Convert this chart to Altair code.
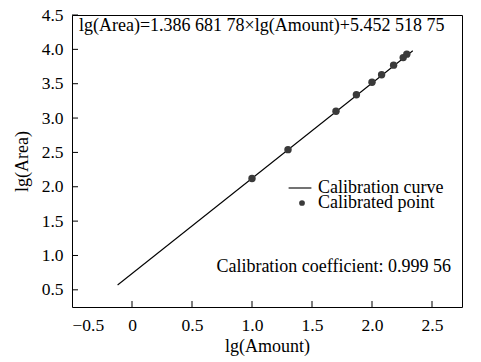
import altair as alt
import pandas as pd

# Calibrated points
amount_lg = [1.00, 1.30, 1.70, 1.87, 2.00, 2.08, 2.18, 2.26, 2.29]
area_lg = [2.12, 2.54, 3.10, 3.34, 3.52, 3.63, 3.77, 3.88, 3.93]
# Calibration curve end points
curve_x = [-0.12, 2.34]
curve_y = [0.57, 3.98]
# Tick values
x_ticks = [-0.5, 0.0, 0.5, 1.0, 1.5, 2.0, 2.5]
y_ticks = [0.5, 1.0, 1.5, 2.0, 2.5, 3.0, 3.5, 4.0, 4.5]
series_names = ["Calibration curve", "Calibrated point"]
equation = "lg(Area)=1.386 681 78×lg(Amount)+5.452 518 75"
coefficient = "Calibration coefficient: 0.999 56"

FONT = "Liberation Serif"
W, H = 390, 292

pts = pd.DataFrame({"x": amount_lg, "y": area_lg, "s": series_names[1]})
crv = pd.DataFrame({"x": curve_x, "y": curve_y, "s": series_names[0]})
xt = pd.DataFrame({"x": x_ticks[1:]})
yt = pd.DataFrame({"y": y_ticks})

xscale = alt.Scale(domain=[-0.5, 2.75], nice=False, zero=False)
yscale = alt.Scale(domain=[0.25, 4.5], nice=False, zero=False)

xaxis = alt.Axis(values=x_ticks, title="lg(Amount)",
                 labelExpr="datum.value == 0 ? '0' : format(datum.value, '.1f')",
                 labelPadding=9, titlePadding=4, labelOverlap=False)
yaxis = alt.Axis(values=y_ticks, title="lg(Area)", format=".1f",
                 labelPadding=9, titlePadding=10, labelOverlap=False)

line = alt.Chart(crv).mark_line(strokeWidth=1.1).encode(
    x=alt.X("x:Q", scale=xscale, axis=xaxis),
    y=alt.Y("y:Q", scale=yscale, axis=yaxis),
    color=alt.Color("s:N", scale=alt.Scale(range=["black"]),
                    legend=alt.Legend(title=None, orient="none", legendX=216, legendY=161,
                                      symbolSize=520, symbolStrokeWidth=1.1, symbolType="stroke",
                                      labelOffset=6, labelFontSize=18, labelFont=FONT)),
)

points = alt.Chart(pts).mark_point(filled=True, size=55, color="#3a3a3a", opacity=1).encode(
    x=alt.X("x:Q", axis=xaxis),
    y=alt.Y("y:Q", axis=yaxis),
    shape=alt.Shape("s:N", scale=alt.Scale(range=["circle"]),
                    legend=alt.Legend(title=None, orient="none", legendX=221, legendY=179,
                                      symbolSize=33, symbolFillColor="#3a3a3a",
                                      symbolStrokeWidth=0,
                                      labelOffset=7, labelFontSize=18, labelFont=FONT)),
)

xticks = alt.Chart(xt).mark_rule(color="black", strokeWidth=1).encode(
    x=alt.X("x:Q", axis=xaxis), y=alt.value(H), y2=alt.value(H - 6))
yticks = alt.Chart(yt).mark_rule(color="black", strokeWidth=1).encode(
    y=alt.Y("y:Q", axis=yaxis), x=alt.value(0), x2=alt.value(6))

eq = alt.Chart(pd.DataFrame({"t": [equation]})).mark_text(
    align="left", baseline="middle", font=FONT, fontSize=18, color="black"
).encode(text="t:N", x=alt.value(7), y=alt.value(11))

coef = alt.Chart(pd.DataFrame({"t": [coefficient]})).mark_text(
    align="right", baseline="middle", font=FONT, fontSize=18, color="black"
).encode(text="t:N", x=alt.value(379), y=alt.value(252))

chart = alt.layer(line, points, xticks, yticks, eq, coef).resolve_legend(
    color="independent", shape="independent"
).properties(
    width=W, height=H,
    autosize=alt.AutoSizeParams(type="none"),
    padding={"left": 64, "top": 7, "right": 10, "bottom": 50},
).configure_view(
    stroke="black", strokeWidth=1
).configure_axis(
    grid=False, ticks=False, domain=False, labelOverlap=False,
    labelFont=FONT, labelFontSize=17.5, labelColor="black",
    titleFont=FONT, titleFontSize=18, titleFontWeight="normal", titleColor="black",
).configure_legend(
    labelColor="black", rowPadding=0
)

chart.save("out.html", embed_options={"renderer": "svg", "actions": False})
